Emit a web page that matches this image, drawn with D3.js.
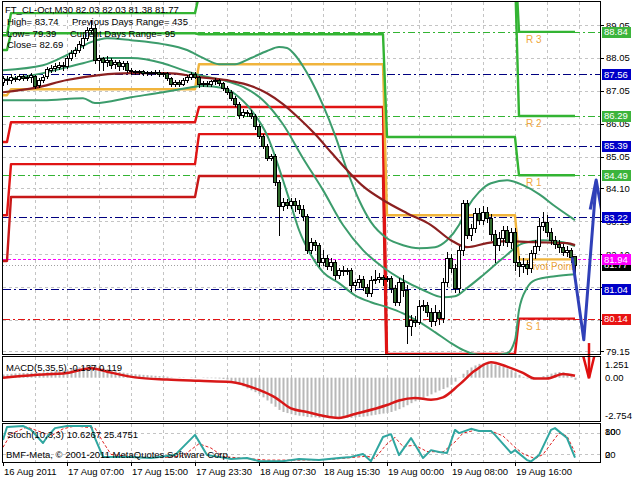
<!DOCTYPE html>
<html><head><meta charset="utf-8">
<script src="https://cdn.jsdelivr.net/npm/d3@7"></script>
<style>
html,body{margin:0;padding:0;background:#fff;}
svg{display:block;}
text{font-family:"Liberation Sans",Arial,sans-serif;font-size:9.5px;fill:#000;}
</style></head><body>
<svg id="c" width="640" height="480"></svg>
<script>
// ---------------- DATA ----------------
const barOpen = [87.32,87.41,87.38,87.44,87.41,87.50,87.44,87.47,87.50,87.23,
87.38,87.50,87.68,87.74,87.77,87.83,87.80,88.05,88.20,88.29,
88.44,88.65,88.90,88.96,87.98,88.05,87.92,87.98,87.86,87.92,
87.80,87.89,87.68,87.65,87.62,87.65,87.59,87.62,87.59,87.62,
87.56,87.59,87.44,87.26,87.32,87.26,87.38,87.47,87.56,87.47,
87.26,87.29,87.26,87.35,87.38,87.29,87.14,87.01,86.83,86.65,
86.32,86.41,86.38,86.29,85.98,85.68,85.38,85.01,85.07,84.28,
83.56,83.68,83.59,83.71,83.59,83.46,83.25,82.22,82.46,82.37,
81.86,81.98,81.73,81.86,81.46,81.61,81.58,81.61,81.16,81.25,
81.34,81.10,80.91,81.31,81.34,81.40,81.34,81.37,81.07,80.64,
81.25,81.01,79.91,80.10,80.04,80.52,80.55,80.34,80.07,80.34,
80.16,81.25,81.98,81.67,81.07,82.22,83.65,82.68,82.89,83.34,
83.13,83.37,83.19,82.71,82.37,82.58,82.83,82.46,82.77,81.86,
81.73,81.80,81.67,82.13,82.34,82.95,83.07,82.77,82.52,82.40,
82.31,82.16,82.22,82.03];
const barHigh = [87.50,87.50,87.56,87.50,87.56,87.56,87.53,87.59,87.53,87.44,
87.53,87.77,87.83,87.89,87.92,87.92,88.11,88.29,88.38,88.56,
88.74,88.99,89.20,89.08,88.14,88.08,88.11,88.05,87.98,87.98,
87.95,87.95,87.74,87.68,87.68,87.68,87.65,87.65,87.68,87.68,
87.62,87.62,87.47,87.38,87.38,87.44,87.53,87.62,87.62,87.50,
87.35,87.35,87.38,87.44,87.41,87.32,87.20,87.07,86.89,86.71,
86.50,86.47,86.47,86.35,86.04,85.74,85.44,85.13,85.13,84.34,
83.80,83.77,83.80,83.80,83.74,83.59,83.31,82.58,82.52,82.43,
82.22,82.07,81.98,81.92,81.67,81.73,81.67,81.67,81.31,81.46,
81.43,81.19,81.43,81.61,81.52,81.46,81.43,81.43,81.16,81.37,
81.46,81.16,80.25,80.22,80.70,80.70,80.64,80.46,80.55,80.40,
81.37,82.16,82.10,81.80,82.34,83.74,83.74,83.01,83.49,83.49,
83.56,83.53,83.31,82.83,82.77,82.95,82.95,82.89,82.89,82.04,
81.98,81.92,82.22,82.52,83.19,83.37,83.28,82.89,82.65,82.52,
82.40,82.34,82.28,82.03];
const barLow = [87.23,87.26,87.29,87.35,87.38,87.38,87.38,87.32,87.14,87.17,
87.32,87.44,87.62,87.65,87.71,87.68,87.74,87.98,88.11,88.23,
88.35,88.59,88.80,87.89,87.68,87.68,87.80,87.74,87.74,87.68,
87.71,87.62,87.56,87.56,87.56,87.53,87.53,87.53,87.56,87.50,
87.50,87.38,87.20,87.20,87.20,87.23,87.32,87.41,87.44,87.17,
87.20,87.20,87.20,87.26,87.23,87.07,86.95,86.77,86.59,86.22,
86.26,86.29,86.22,85.89,85.62,85.31,84.95,84.95,84.19,82.68,
83.43,83.49,83.49,83.40,83.34,83.13,82.13,82.13,82.22,81.73,
81.77,81.64,81.61,81.34,81.37,81.46,81.49,80.98,81.01,81.10,
81.01,80.82,80.82,81.22,81.25,81.16,81.28,80.95,80.55,80.55,
80.82,79.39,79.64,79.91,79.98,80.40,80.22,79.91,79.94,79.98,
80.04,81.13,81.55,80.95,80.95,82.07,82.58,82.52,82.77,83.01,
83.01,83.07,82.52,81.86,82.22,82.37,82.34,82.28,81.61,81.43,
81.55,81.49,81.55,81.98,82.22,82.83,82.65,82.40,82.28,82.16,
82.07,82.04,81.86,81.38];
const barClose = [87.44,87.38,87.47,87.41,87.50,87.44,87.47,87.53,87.20,87.38,
87.47,87.71,87.74,87.80,87.83,87.80,88.05,88.20,88.29,88.47,
88.65,88.90,88.96,87.98,88.05,87.92,87.98,87.83,87.92,87.80,
87.89,87.68,87.65,87.62,87.65,87.59,87.62,87.59,87.62,87.56,
87.59,87.44,87.26,87.32,87.26,87.38,87.47,87.56,87.47,87.26,
87.29,87.26,87.35,87.38,87.29,87.14,87.01,86.83,86.65,86.32,
86.41,86.38,86.29,85.98,85.68,85.38,85.01,85.07,84.28,83.56,
83.68,83.59,83.71,83.59,83.46,83.25,82.22,82.46,82.37,81.86,
81.98,81.73,81.86,81.46,81.61,81.58,81.61,81.16,81.25,81.34,
81.10,80.91,81.31,81.34,81.40,81.34,81.37,81.07,80.64,81.25,
81.01,79.91,80.10,80.04,80.52,80.55,80.34,80.07,80.34,80.16,
81.25,81.98,81.67,81.07,82.22,83.65,82.68,82.89,83.34,83.13,
83.37,83.19,82.71,82.37,82.58,82.83,82.46,82.77,81.86,81.73,
81.80,81.67,82.13,82.34,82.95,83.07,82.77,82.52,82.40,82.31,
82.16,82.22,82.01,81.77];

const timeLabels = ["16 Aug 2011","17 Aug 07:00","17 Aug 15:00","17 Aug 23:30","18 Aug 07:30","18 Aug 15:30","19 Aug 00:00","19 Aug 08:00","19 Aug 16:00"];
const timeLabelBars = [0,16,32,48,64,80,96,112,128];
const priceTicks = [89.05,88.05,87.05,86.05,85.05,84.10,83.10,82.10,81.10,80.10,79.15];
const priceTickLabels = ["89.05","88.05","87.05","86.05","85.05","84.10","83.10","82.10","81.10","80.10","79.15"];

// horizontal level lines (value + kind)
const levelValues = [88.84,87.56,86.29,85.39,84.49,83.22,81.04,80.14,81.77,81.94];
const levelKinds  = ["R","F","R","F","R","F","F","S","B","P"];

// daily pivot step levels (segment start bar, levels per segment)
const segStarts = [0,2,49,96,129];
const pivotR3 = [90.80,90.90,91.00,91.20,88.84];
const pivotR2 = [88.74,89.41,89.95,90.60,86.29];
const pivotR1 = [88.29,88.80,88.77,85.65,84.49];
const pivotPP = [86.92,87.10,87.86,83.28,81.94];
const pivotS1 = [85.50,86.10,86.56,79.07,80.14];
const pivotS2 = [83.28,84.83,85.74,78.20,78.60];
const pivotS3 = [81.89,83.83,84.47,77.80,77.50];
const pivotLabels = ["R 3","R 2","R 1","Pivot Point","S 1"];
const pivotLabelValues = [88.84,86.29,84.49,81.94,80.14];

// Bollinger bands and moving average knots [bar, price]
const bbUpper = [[0,87.68],[10,87.83],[16,88.14],[22,88.53],[26,88.65],[32,88.59],[40,88.47],[46,88.29],[50,88.05],[54,87.86],[58,87.86],[62,88.05],[66,88.26],[69,88.38],[71,88.35],[73,88.14],[75,87.80],[77,87.38],[80,86.62],[83,85.71],[86,84.65],[89,83.74],[92,83.07],[96,82.58],[100,82.37],[104,82.28],[108,82.31],[111,82.52],[114,82.98],[116,83.49],[119,83.98],[122,84.25],[126,84.34],[130,84.19],[134,83.92],[138,83.55],[143,83.13]];
const bbMiddle = [[0,87.38],[10,87.59],[20,87.89],[26,88.05],[32,88.05],[40,87.89],[45,87.68],[50,87.50],[55,87.38],[60,87.17],[65,86.77],[70,86.04],[75,85.01],[80,84.04],[85,82.98],[90,82.22],[95,81.70],[100,81.31],[105,81.01],[110,80.79],[113,80.82],[116,81.07],[120,81.46],[125,81.98],[130,82.43],[135,82.52],[140,82.46],[143,82.34]];
const bbLower = [[0,86.77],[10,86.77],[20,86.83],[23,86.68],[32,86.86],[40,87.01],[46,87.14],[50,87.20],[55,87.14],[59,86.86],[63,86.32],[66,85.71],[70,84.34],[72,83.59],[74,82.83],[77,82.07],[80,81.55],[84,81.22],[88,80.85],[92,80.64],[96,80.49],[100,80.30],[104,80.04],[108,79.73],[112,79.40],[115,79.19],[118,79.06],[122,79.03],[126,79.09],[128,79.49],[129,80.40],[131,81.07],[133,81.31],[138,81.43],[143,81.49]];
const maSlow = [[0,87.01],[8,87.14],[16,87.38],[24,87.53],[32,87.59],[41,87.59],[49,87.47],[57,87.35],[62,87.20],[66,86.98],[70,86.65],[74,86.22],[78,85.74],[82,85.19],[86,84.65],[90,84.16],[95,83.74],[101,83.34],[107,82.98],[112,82.52],[116,82.31],[121,82.43],[126,82.49],[133,82.46],[141,82.43],[143,82.37]];

// hand-drawn arrows [bar, price]
const blueArrow = [[142.3,82.00],[145.2,79.50],[148.3,84.30]];
const blueArrowHead = [[146.8,83.45],[148.3,84.35],[149.6,83.45]];
const redArrow = [[146.5,79.40],[146.5,78.36]];
const redArrowHead = [[145.1,78.99],[146.5,78.33],[147.8,78.99]];

// MACD(5,35,5)
const macdHist = [0.20,0.22,0.25,0.27,0.28,0.30,0.30,0.32,0.30,0.30,0.32,
0.35,0.38,0.40,0.42,0.45,0.50,0.55,0.60,0.66,0.72,
0.78,0.82,0.80,0.72,0.62,0.55,0.48,0.42,0.36,0.32,
0.28,0.25,0.22,0.20,0.18,0.16,0.14,0.12,0.10,0.09,
0.06,0.02,0.00,-0.02,-0.02,0.00,0.02,0.03,0.00,-0.02,
-0.03,-0.03,-0.04,-0.05,-0.08,-0.12,-0.20,-0.30,-0.42,-0.55,
-0.68,-0.80,-0.92,-1.05,-1.25,-1.45,-1.65,-1.85,-2.05,-2.18,
-2.25,-2.32,-2.38,-2.42,-2.45,-2.50,-2.52,-2.52,-2.55,-2.55,
-2.55,-2.55,-2.56,-2.56,-2.55,-2.55,-2.55,-2.52,-2.50,-2.48,
-2.45,-2.40,-2.36,-2.32,-2.28,-2.24,-2.18,-2.10,-2.00,-1.88,
-1.75,-1.62,-1.50,-1.38,-1.28,-1.18,-1.06,-0.94,-0.82,-0.72,
-0.62,-0.45,-0.25,-0.02,0.25,0.48,0.65,0.78,0.88,0.93,
0.93,0.90,0.84,0.76,0.68,0.60,0.48,0.34,0.18,0.05,
-0.05,-0.12,-0.10,0.00,0.10,0.18,0.26,0.32,0.36,0.34,0.25,0.12,-0.137];
const macdSignal = [[0,0.0],[8,0.17],[16,0.30],[22,0.60],[27,0.32],[33,0.02],[41,-0.12],[49,-0.20],[57,-0.27],[64,-0.78],[68,-1.25],[72,-1.95],[76,-2.18],[79,-2.37],[82,-2.52],[84,-2.56],[88,-2.31],[96,-1.74],[99,-1.45],[103,-1.29],[107,-1.40],[110,-1.25],[114,-0.46],[118,0.45],[122,0.98],[126,0.70],[130,0.30],[133,-0.06],[136,-0.06],[140,0.24],[143,0.119]];
const macdTickLabels = ["1.251","0.00","-2.754"];

// Stochastic(10,3,3)
const stochMain = [[0,61],[1,97],[5,100],[7,89],[10,52],[11,69],[13,94],[16,100],[22,100],[23,66],[25,13],[32,13],[37,10],[43,18],[48,75],[51,18],[54,13],[57,7],[61,10],[64,1],[70,1],[74,7],[79,4],[84,10],[87,13],[90,21],[92,1],[95,69],[97,77],[99,18],[102,66],[105,10],[107,32],[109,27],[111,24],[113,89],[114,80],[117,92],[119,86],[122,86],[123,75],[127,24],[128,32],[131,4],[132,0],[134,18],[137,89],[138,94],[141,66],[143,10.63]];
const stochSignal = [[0,40],[2,78],[6,97],[9,85],[12,72],[15,92],[18,100],[23,94],[25,55],[27,20],[33,12],[40,11],[45,16],[49,50],[52,38],[55,14],[60,9],[66,4],[74,4],[82,6],[88,12],[91,15],[93,9],[96,50],[98,68],[100,42],[103,46],[106,28],[110,27],[113,55],[115,80],[118,88],[122,86],[125,72],[128,40],[130,22],[133,8],[135,20],[139,80],[141,72],[143,25.48]];
const stochLevels = [80,20];
const stochTickValues = [100,80,20,0];

const titleText = "FT_CL-Oct,M30  82.03 82.03 81.38 81.77";
const infoLeft = ["High= 83.74","Low= 79.39","Close= 82.69"];
const infoRight = ["Previous Days Range= 435","Current Days Range= 95"];
const macdTitle = "MACD(5,35,5) -0.137 0.119";
const stochTitle = "Stoch(10,3,3) 10.6267 25.4751";
const copyright = "BMF-Meta, \u00a9 2001-2011 MetaQuotes Software Corp.";

// ---------------- DRAW ----------------
const svg = d3.select("#c");
const bars = d3.range(barClose.length);
const x = d3.scaleLinear().domain([0,149.25]).range([3,600]);
const yM = d3.scaleLinear().domain([79.15,89.05]).range([351.3,25]);
const yMacd = d3.scaleLinear().domain([-2.754,1.251]).range([421,358]);
const yS = d3.scaleLinear().domain([0,100]).range([461.5,426]);

const defs = svg.append("defs");
defs.append("clipPath").attr("id","cm").append("rect").attr("x",3).attr("y",2).attr("width",597).attr("height",352);
defs.append("clipPath").attr("id","cd").append("rect").attr("x",3).attr("y",357).attr("width",597).attr("height",64);
defs.append("clipPath").attr("id","cs").append("rect").attr("x",3).attr("y",424).attr("width",597).attr("height",38);

const snap = v => Math.round(v)+0.5;
const gridXs = d3.range(8,150,8);

// grids
const gGrid = svg.append("g").attr("stroke","#c4c4c4").attr("stroke-dasharray","3,3").attr("shape-rendering","crispEdges");
gridXs.forEach(i=>{
  [[2,354],[357,421],[424,462]].forEach(([a,b])=>{
    gGrid.append("line").attr("x1",snap(x(i))).attr("x2",snap(x(i))).attr("y1",a).attr("y2",b);
  });
});
priceTicks.forEach(v=>{
  gGrid.append("line").attr("x1",3).attr("x2",600).attr("y1",snap(yM(v))).attr("y2",snap(yM(v)));
});
stochLevels.forEach(v=>{
  gGrid.append("line").attr("x1",3).attr("x2",600).attr("y1",snap(yS(v))).attr("y2",snap(yS(v)));
});

const gMain = svg.append("g").attr("clip-path","url(#cm)");

// full width level lines
const lineColor = {R:"#33b433",F:"#000080",S:"#e01414",B:"#a0a0a0",P:"#ff00ff"};
const lineDash = {R:"7,3,2,3",F:"8,3,2,3",S:"7,3,2,3",B:"1,2",P:"3,2"};
levelValues.forEach((v,k)=>{
  gMain.append("line").attr("x1",3).attr("x2",600).attr("y1",snap(yM(v))).attr("y2",snap(yM(v)))
    .attr("stroke",lineColor[levelKinds[k]]).attr("stroke-dasharray",lineDash[levelKinds[k]])
    .attr("shape-rendering","crispEdges");
});

// pivot step lines
function stepSeries(vals){
  return bars.map(i=>{let s=0; segStarts.forEach((b,k)=>{if(i>=b) s=k;}); return [i, vals[s]];});
}
const lineM = d3.line().x(d=>x(d[0])).y(d=>yM(d[1]));
[[pivotS3,"#c81818"],[pivotS2,"#e01414"],[pivotS1,"#e01414"],[pivotPP,"#f0b43c"],[pivotR1,"#33b433"],[pivotR2,"#33b433"],[pivotR3,"#33b433"]].forEach(([vals,col])=>{
  gMain.append("path").attr("d",lineM(stepSeries(vals))).attr("fill","none").attr("stroke",col).attr("stroke-width",2.4).attr("stroke-linejoin","round");
});
pivotLabels.forEach((t,k)=>{
  gMain.append("text").attr("x",x(segStarts[4])+7).attr("y",yM(pivotLabelValues[k])+11).text(t).style("fill","#f0a840").style("font-size","10px");
});

// bands and MA
const curveM = d3.line().x(d=>x(d[0])).y(d=>yM(d[1])).curve(d3.curveMonotoneX);
[bbUpper,bbMiddle,bbLower].forEach(s=>{
  gMain.append("path").attr("d",curveM(s)).attr("fill","none").attr("stroke","#3c9c6c").attr("stroke-width",2);
});
gMain.append("path").attr("d",curveM(maSlow)).attr("fill","none").attr("stroke","#8b2020").attr("stroke-width",2.2);

// candles
const gC = gMain.append("g");
bars.forEach(i=>{
  const cx = Math.round(x(i));
  const o=barOpen[i], c=barClose[i];
  gC.append("line").attr("x1",cx+0.5).attr("x2",cx+0.5).attr("y1",Math.round(yM(barHigh[i]))).attr("y2",Math.round(yM(barLow[i]))+1)
    .attr("stroke","#000").attr("shape-rendering","crispEdges");
  const top = Math.round(yM(Math.max(o,c))), bot = Math.round(yM(Math.min(o,c)));
  gC.append("rect").attr("x",cx-1.5).attr("y",top+0.5).attr("width",3).attr("height",Math.max(bot-top,0))
    .attr("fill", c>=o ? "#ffffff" : "#2f6a2c").attr("stroke","#000").attr("stroke-width",1);
});

// blue arrow
const lineP = d3.line().x(d=>x(d[0])).y(d=>yM(d[1]));
gMain.append("path").attr("d",lineP(blueArrow)).attr("fill","none").attr("stroke","#3040b8").attr("stroke-width",3).attr("stroke-linejoin","round");
gMain.append("path").attr("d",lineP(blueArrowHead)).attr("fill","none").attr("stroke","#3040b8").attr("stroke-width",3).attr("stroke-linejoin","round");

// panel text
svg.append("text").attr("x",5).attr("y",13).text(titleText);
infoLeft.forEach((t,k)=>svg.append("text").attr("x",7).attr("y",[25,37,47.5][k]).text(t));
infoRight.forEach((t,k)=>svg.append("text").attr("x",[72,70][k]).attr("y",[25,37][k]).text(t));

// MACD panel
const gD = svg.append("g").attr("clip-path","url(#cd)");
bars.forEach(i=>{
  const v = macdHist[i];
  const y0 = yMacd(0), y1 = yMacd(v);
  gD.append("rect").attr("x",Math.round(x(i))-0.5).attr("width",2).attr("y",Math.min(y0,y1)).attr("height",Math.abs(y1-y0))
    .attr("fill","#b8b8b8");
});
gD.append("path").attr("d",d3.line().x(d=>x(d[0])).y(d=>yMacd(d[1])).curve(d3.curveMonotoneX)(macdSignal))
  .attr("fill","none").attr("stroke","#d81818").attr("stroke-width",2.5);
svg.append("text").attr("x",6).attr("y",371).text(macdTitle);

// Stoch panel
const gS = svg.append("g").attr("clip-path","url(#cs)");
gS.append("path").attr("d",d3.line().x(d=>x(d[0])).y(d=>yS(d[1]))(stochSignal))
  .attr("fill","none").attr("stroke","#e02020").attr("stroke-width",1).attr("stroke-dasharray","3,2");
gS.append("path").attr("d",d3.line().x(d=>x(d[0])).y(d=>yS(d[1]))(stochMain))
  .attr("fill","none").attr("stroke","#30a6a0").attr("stroke-width",2).attr("stroke-linejoin","round");
svg.append("text").attr("x",7).attr("y",438).text(stochTitle);
svg.append("text").attr("x",6).attr("y",458).text(copyright);

// red arrow (spans panels)
svg.append("path").attr("d",lineP(redArrow)).attr("fill","none").attr("stroke","#e01010").attr("stroke-width",2.5);
svg.append("path").attr("d",lineP(redArrowHead)).attr("fill","none").attr("stroke","#e01010").attr("stroke-width",2.5).attr("stroke-linejoin","miter");

// frames
const gF = svg.append("g").attr("fill","none").attr("stroke","#000").attr("shape-rendering","crispEdges");
gF.append("rect").attr("x",2.5).attr("y",1.5).attr("width",597.5).attr("height",353);
gF.append("rect").attr("x",2.5).attr("y",356.5).attr("width",597.5).attr("height",65);
gF.append("rect").attr("x",2.5).attr("y",423.5).attr("width",597.5).attr("height",39);

// right price axis
priceTicks.forEach((v,k)=>{
  const yy = snap(yM(v));
  svg.append("line").attr("x1",600).attr("x2",604).attr("y1",yy).attr("y2",yy).attr("stroke","#000").attr("shape-rendering","crispEdges");
  svg.append("text").attr("x",606).attr("y",yM(v)+3.5).text(priceTickLabels[k]);
});
const boxColor = {R:"#3cb43c",F:"#0000c8",S:"#e81414",B:"#000000",P:"#ff00ff"};
levelValues.forEach((v,k)=>{
  const yy = yM(v);
  svg.append("rect").attr("x",602).attr("y",Math.round(yy)-5).attr("width",29).attr("height",11).attr("fill",boxColor[levelKinds[k]]);
  svg.append("text").attr("x",604).attr("y",yy+3.5).text(v.toFixed(2)).style("fill","#fff");
});

// MACD axis
macdTickLabels.forEach((t,k)=>{
  svg.append("text").attr("x",605).attr("y",[368,381,419][k]).text(t);
});
// Stoch axis
stochTickValues.forEach((v,k)=>{
  svg.append("text").attr("x",605).attr("y",[435,435,458,458][k]).text(String(v));
});

// time axis
timeLabelBars.forEach((b,k)=>{
  const xx = snap(x(b));
  svg.append("line").attr("x1",xx).attr("x2",xx).attr("y1",462).attr("y2",466).attr("stroke","#000").attr("shape-rendering","crispEdges");
  svg.append("text").attr("x",x(b)+1).attr("y",475).text(timeLabels[k]);
});
</script>
</body></html>
